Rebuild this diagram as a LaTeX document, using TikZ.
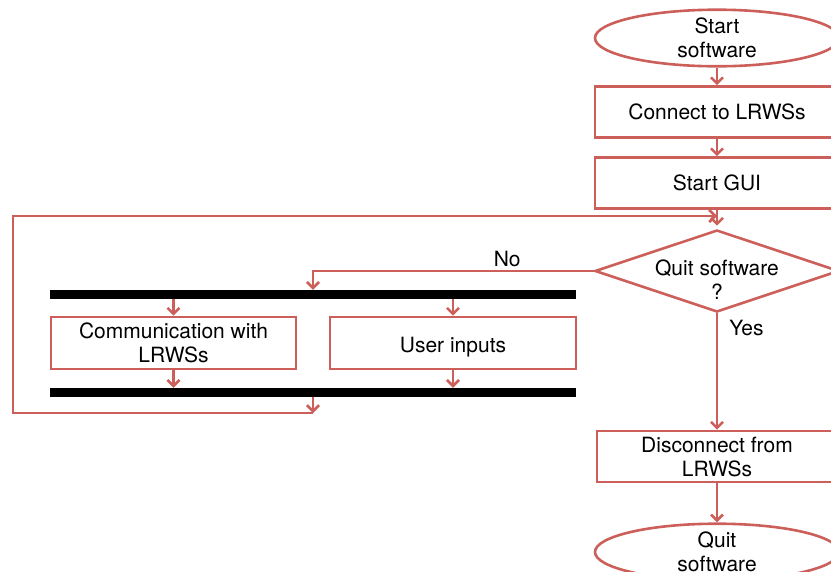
\documentclass[tikz,border=0pt]{standalone}
\usepackage{fontspec}
\setmainfont{TeX Gyre Heros}
\usetikzlibrary{shapes.geometric,arrows.meta}
\definecolor{flow}{RGB}{205,95,90}
\tikzstyle{term}=[draw=flow, ellipse, line width=2.6pt, minimum width=244pt, minimum height=54pt, inner sep=0pt, align=center]
\tikzstyle{proc}=[draw=flow, rectangle, line width=2.6pt, minimum height=51pt, inner sep=0pt, align=center]
\tikzstyle{decision}=[draw=flow, diamond, line width=2.6pt, minimum width=244pt, minimum height=82pt, inner sep=0pt]
\tikzstyle{bar}=[fill=black, rectangle, inner sep=0pt, minimum width=526pt, minimum height=9pt]
\tikzstyle{l}=[draw=none, inner sep=3pt]
\tikzstyle{link}=[draw=flow, line width=2.6pt, -{Straight Barb[length=6pt,width=12pt]}]

\begin{document}
\begin{tikzpicture}[x=1pt, y=-1pt, font=\fontsize{21}{24}\selectfont]
\useasboundingbox (0,0) rectangle (831,571);
\clip (0,0) rectangle (831,571);
% main column
\node[term] (start) at (717,38) {Start\\software};
\node[proc, minimum width=244pt] (connect) at (717,112) {Connect to LRWSs};
\node[proc, minimum width=244pt] (gui) at (717,183) {Start GUI};
\node[decision, label={[yshift=-9pt, align=center]center:Quit software\\?}] (quit) at (717,271) {};
\node[proc, minimum width=240pt] (disc) at (717,456.5) {Disconnect from\\LRWSs};
\node[term] (stop) at (717,552) {Quit\\software};
% parallel part
\node[bar] (fork) at (313,294.5) {};
\node[bar] (join) at (313,392.5) {};
\node[proc, minimum width=245pt, minimum height=52pt] (comm) at (173.5,343) {Communication with\\LRWSs};
\node[proc, minimum width=246pt, minimum height=52pt, text height=19pt, text depth=0pt] (user) at (453,343) {User inputs};
\coordinate (back) at (313,413);
\coordinate (top) at (717,216);
\foreach \f/\t in {start/connect, connect/gui, disc/stop}
  \draw[link] (\f) -- (\t);
\draw[link, shorten >=3pt] (gui) -- (quit);
\foreach \b in {comm, user} {
  \draw[link] (\b.north |- fork.south) -- (\b);
  \draw[link] (\b) -- (\b.south |- join.north);
}
\draw[link] (quit.west) -| (fork.north -| back) node[l, pos=0.154, above] {No};
\draw[link] (quit.south) -- (disc.north) node[l, pos=0.13, right=8pt] {Yes};
\draw[link] (join.south -| back) -- (back);
\draw[link] (back) -- (13,413) |- (top);
\end{tikzpicture}
\end{document}
